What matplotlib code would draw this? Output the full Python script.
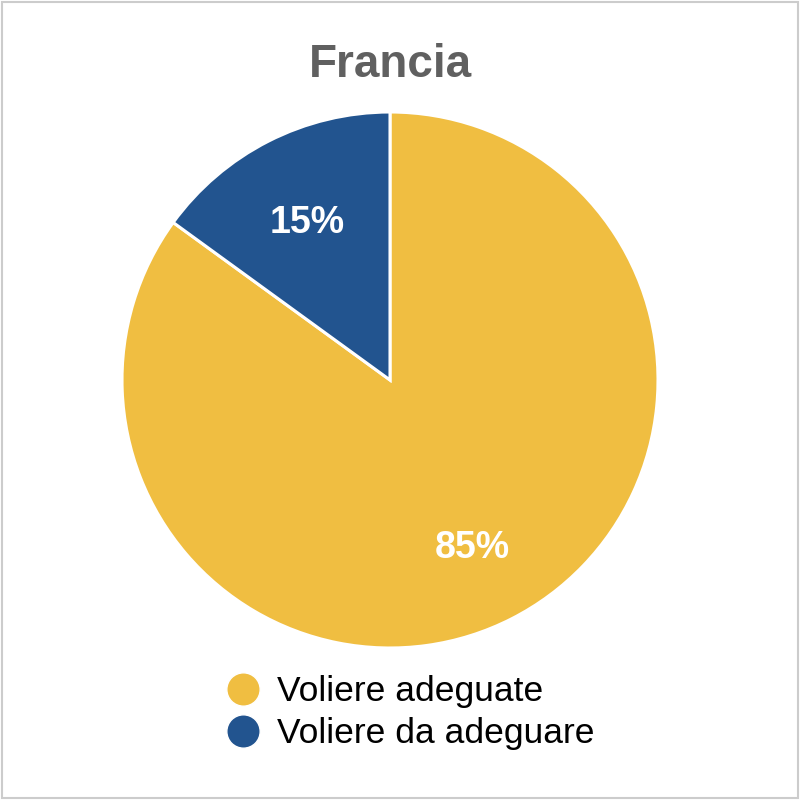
import matplotlib.pyplot as plt
from matplotlib.lines import Line2D
from matplotlib.patches import Rectangle

plt.rcParams['font.family'] = ['Liberation Sans', 'DejaVu Sans']

title = "Francia"
labels = ["Voliere adeguate", "Voliere da adeguare"]
values = [85, 15]
colors = ["#F0BE41", "#22548F"]

fig = plt.figure(figsize=(8, 8), dpi=100)

# light grey frame round the whole picture
fig.patches.append(Rectangle((0.002, 0.002), 0.996, 0.996, transform=fig.transFigure,
                             fill=False, edgecolor="#cccccc", linewidth=1.5))

ax = fig.add_axes([0.1525, 0.19, 0.67, 0.67])
wedges, texts, autotexts = ax.pie(
    values, colors=colors, startangle=90, counterclock=False,
    autopct=lambda p: f"{p:.0f}%", pctdistance=0.68,
    wedgeprops=dict(edgecolor="white", linewidth=2.2),
    textprops=dict(color="white", fontsize=27, fontweight="bold"))
# labels sit a touch lower in the original
for t in autotexts:
    x, y = t.get_position()
    t.set_position((x, y - 0.02))
ax.set_xlim(-1, 1)
ax.set_ylim(-1, 1)
ax.set_aspect("equal")

fig.text(0.4875, 0.919, title, ha="center", va="center",
         fontsize=33, fontweight="bold", color="#606060")

handles = [Line2D([], [], marker="o", linestyle="none", markersize=24,
                  markerfacecolor=c, markeredgecolor="white") for c in colors]
fig.legend(handles, labels, loc="center", bbox_to_anchor=(0.51, 0.109),
           frameon=False, fontsize=25.5, handletextpad=0.35, labelspacing=0.25,
           handlelength=1.2)

fig.savefig("out.png", dpi=100)
